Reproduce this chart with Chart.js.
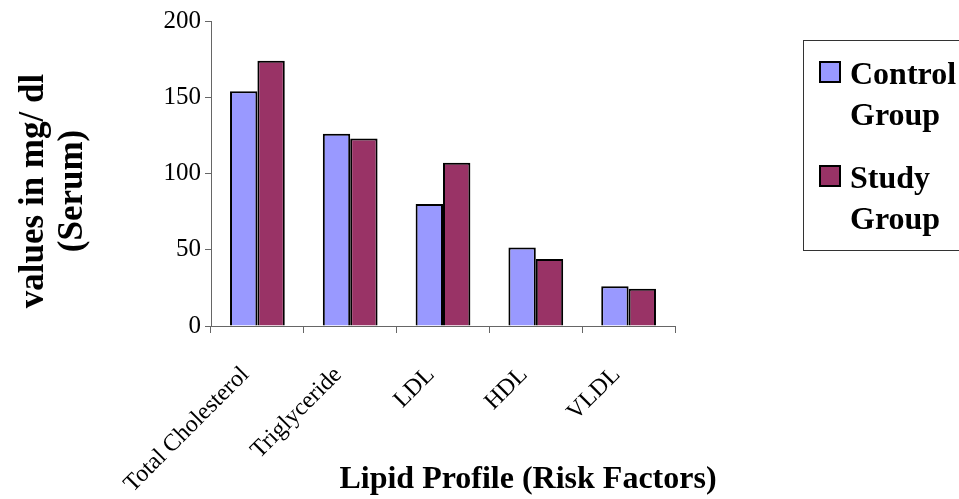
<!DOCTYPE html>
<html>
<head>
<meta charset="utf-8">
<script src="https://cdn.jsdelivr.net/npm/chart.js@4/dist/chart.umd.min.js"></script>
<style>
  html, body { margin: 0; padding: 0; background: #fff; }
  #wrap { width: 959px; height: 499px; position: relative; }
</style>
</head>
<body>
<div id="wrap"><canvas id="bars"></canvas></div>
<script>
// donnees du graphique
var categories = ['Total Cholesterol', 'Triglyceride', 'LDL', 'HDL', 'VLDL'];
var controlGroup = [154, 126, 80, 51.5, 26];
var studyGroup = [174, 123, 107, 44, 24.5];
var seriesNames = ['Control Group', 'Study Group'];
var colors = ['#9999FF', '#993366'];
var yTicks = [0, 50, 100, 150, 200];

var serif = "'Liberation Serif', 'Times New Roman', serif";

// titres des axes et legende dessines a la main
const extraText = {
    id: 'extraText',
    afterDraw(chart) {
        const ctx = chart.ctx;
        ctx.save();
        ctx.fillStyle = '#000';
        ctx.font = 'bold 32px ' + serif;
        ctx.textAlign = 'center';
        ctx.textBaseline = 'alphabetic';
        ctx.fillText('Lipid Profile (Risk Factors)', 528, 488);

        ctx.font = 'bold 35px ' + serif;
        ctx.translate(43, 191);
        ctx.rotate(-Math.PI / 2);
        ctx.fillText('values in mg/ dl', 0, 0);
        ctx.fillText('(Serum)', 0, 39);
        ctx.restore();

        // legende
        ctx.save();
        ctx.strokeStyle = '#333';
        ctx.lineWidth = 1;
        ctx.strokeRect(803.5, 40.5, 170, 210);
        ctx.font = 'bold 32px ' + serif;
        ctx.textAlign = 'left';
        var tops = [62, 166];
        chart.data.datasets.forEach(function(ds, i) {
            var y = tops[i];
            ctx.fillStyle = ds.backgroundColor;
            ctx.fillRect(820, y, 20, 20);
            ctx.lineWidth = 2;
            ctx.strokeStyle = '#000';
            ctx.strokeRect(820, y, 20, 20);
            ctx.fillStyle = '#000';
            var words = ds.label.split(' ');
            ctx.fillText(words[0], 850, y + 22);
            ctx.fillText(words[1], 850, y + 63);
        });
        ctx.restore();
    }
};

const barConfig = {
    type: 'bar',
    data: {
        labels: categories,
        datasets: [
            {
                label: seriesNames[0],
                data: controlGroup,
                backgroundColor: colors[0],
                borderColor: '#000',
                borderWidth: 2,
                categoryPercentage: 0.59,
                barPercentage: 1.0
            },
            {
                label: seriesNames[1],
                data: studyGroup,
                backgroundColor: colors[1],
                borderColor: '#000',
                borderWidth: 2,
                categoryPercentage: 0.59,
                barPercentage: 1.0
            }
        ]
    },
    options: {
        responsive: false,
        animation: false,
        devicePixelRatio: 1,
        layout: { padding: { top: 21, right: 284, left: 0, bottom: 0 } },
        plugins: {
            legend: { display: false },
            tooltip: { enabled: false }
        },
        scales: {
            x: {
                afterFit: function(scale) { scale.height = 173; },
                grid: { display: true, drawOnChartArea: false, drawTicks: true, tickLength: 7, color: '#666', offset: true },
                border: { display: true, color: '#666', width: 1 },
                ticks: {
                    color: '#000',
                    font: { family: serif, size: 24 },
                    maxRotation: 45,
                    minRotation: 45,
                    autoSkip: false,
                    padding: 28,
                    labelOffset: -12
                }
            },
            y: {
                min: 0,
                max: 200,
                afterFit: function(scale) { scale.width = 211; },
                afterBuildTicks: function(scale) {
                    scale.ticks = yTicks.map(function(v) { return { value: v }; });
                },
                grid: { display: true, drawOnChartArea: false, drawTicks: true, tickLength: 6, color: '#666' },
                border: { display: true, color: '#666', width: 1 },
                ticks: {
                    color: '#000',
                    font: { family: serif, size: 25 },
                    padding: 4
                }
            }
        }
    },
    plugins: [extraText]
};

const barsCtx = document.getElementById('bars');
barsCtx.width = 959;
barsCtx.height = 499;
window.myBar = new Chart(barsCtx, barConfig);
</script>
</body>
</html>
